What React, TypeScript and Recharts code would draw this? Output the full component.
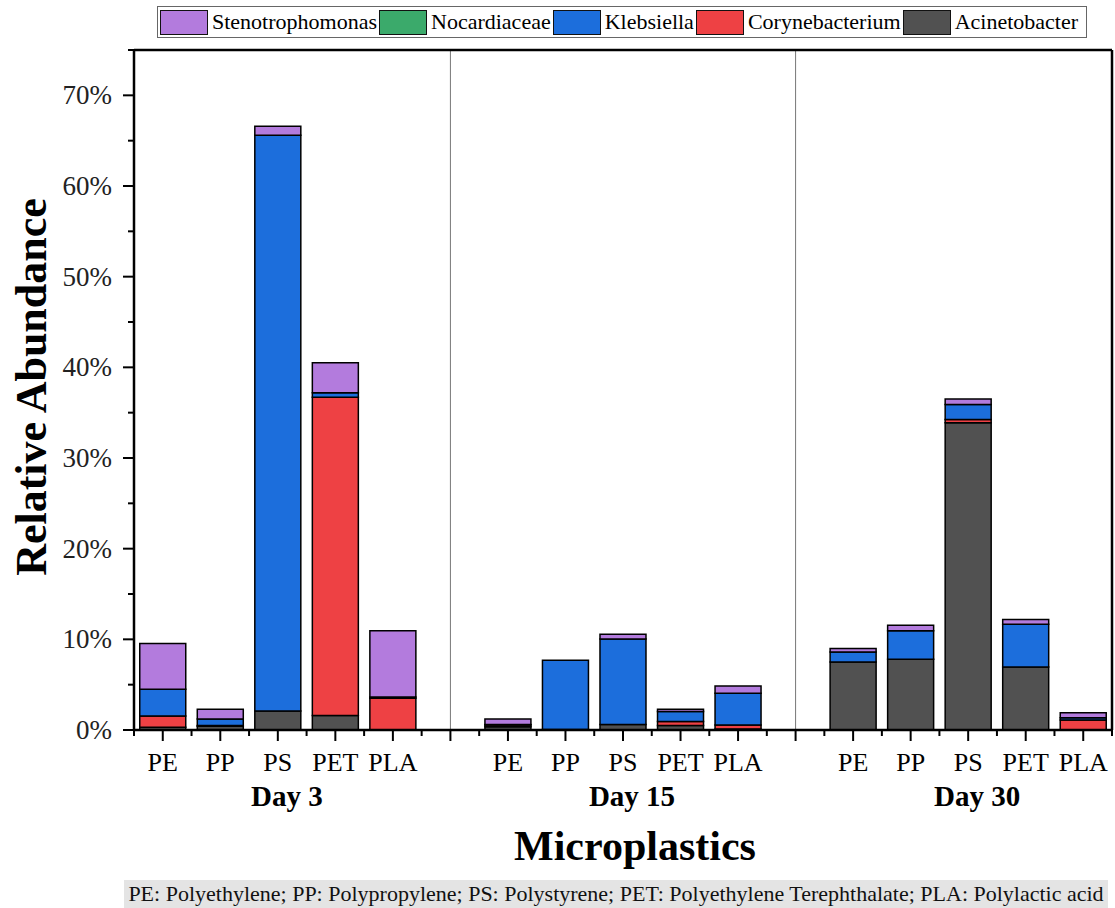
import { Bar, BarChart, Legend, ReferenceLine, XAxis, YAxis } from "recharts";

const FONT = '"Liberation Serif", "Times New Roman", serif';

const PLASTICS = ["PE", "PP", "PS", "PET", "PLA"];
const DAYS = ["Day 3", "Day 15", "Day 30"];

// relative abundance in %, per day: PE, PP, PS, PET, PLA
const ACINETOBACTER = [0.3, 0.4, 2.1, 1.6, 0, 0.35, 0.05, 0.6, 0.5, 0.1, 7.5, 7.8, 33.9, 6.95, 0];
const CORYNEBACTERIUM = [1.25, 0.1, 0, 35.1, 3.5, 0.2, 0, 0, 0.45, 0.45, 0, 0, 0.35, 0, 1.1];
const KLEBSIELLA = [2.95, 0.7, 63.5, 0.5, 0.15, 0.05, 7.65, 9.45, 1.1, 3.5, 1.1, 3.15, 1.65, 4.7, 0.25];
const NOCARDIACEAE = [0, 0, 0, 0, 0, 0, 0, 0, 0, 0, 0, 0, 0, 0, 0];
const STENOTROPHOMONAS = [5.05, 1.1, 1.0, 3.3, 7.3, 0.6, 0, 0.5, 0.25, 0.8, 0.4, 0.6, 0.6, 0.55, 0.55];

const Y_TICKS = [0, 5, 10, 15, 20, 25, 30, 35, 40, 45, 50, 55, 60, 65, 70, 75];

// stacking order, bottom first
const SERIES = [
  { key: "Acinetobacter", color: "#515151", values: ACINETOBACTER },
  { key: "Corynebacterium", color: "#EE4144", values: CORYNEBACTERIUM },
  { key: "Klebsiella", color: "#1C6EDC", values: KLEBSIELLA },
  { key: "Nocardiaceae", color: "#3BAA6B", values: NOCARDIACEAE },
  { key: "Stenotrophomonas", color: "#B37BDD", values: STENOTROPHOMONAS },
];

type Row = { slot: string; label: string; day: string; [key: string]: number | string };

// one empty slot between the days
const data: Row[] = [];
DAYS.forEach((day, d) => {
  if (d > 0) data.push({ slot: `gap${d}`, label: "", day: "" });
  PLASTICS.forEach((p, i) => {
    const row: Row = { slot: `${day} ${p}`, label: p, day: i === 2 ? day : "" };
    SERIES.forEach((s) => {
      row[s.key] = s.values[d * 5 + i];
    });
    data.push(row);
  });
});

const PLOT_LEFT = 134;
const PLOT_RIGHT = 1112;
const SLOT = (PLOT_RIGHT - PLOT_LEFT) / data.length;

function XTick(props: any) {
  const { x, y, payload } = props;
  const idx = data.findIndex((r) => r.slot === payload.value);
  const row = data[idx];
  const half = SLOT / 2;
  return (
    <g>
      <line x1={x} x2={x} y1={y} y2={y + 11} stroke="#000" strokeWidth={2} />
      <line x1={x - half} x2={x - half} y1={y} y2={y + 6} stroke="#000" strokeWidth={2} />
      {idx === data.length - 1 && (
        <line x1={x + half} x2={x + half} y1={y} y2={y + 6} stroke="#000" strokeWidth={2} />
      )}
      <text x={x} y={y + 41} textAnchor="middle" fontSize={26} fontFamily={FONT} fill="#000">
        {row?.label}
      </text>
      {row?.day && (
        <text x={x + 9} y={y + 76} textAnchor="middle" fontSize={29} fontWeight="bold" fontFamily={FONT} fill="#000">
          {row.day}
        </text>
      )}
    </g>
  );
}

function YTick(props: any) {
  const { x, y, payload } = props;
  const major = payload.value % 10 === 0;
  return (
    <g>
      <line x1={x - (major ? 11 : 6)} x2={x} y1={y} y2={y} stroke="#000" strokeWidth={2} />
      {major && (
        <text x={x - 22} y={y + 9} textAnchor="end" fontSize={27} fontFamily={FONT} fill="#222">
          {`${payload.value}%`}
        </text>
      )}
    </g>
  );
}

function LegendBox() {
  const items = [...SERIES].reverse();
  return (
    <div
      style={{
        display: "flex",
        alignItems: "center",
        height: 32,
        boxSizing: "border-box",
        border: "1px solid #666",
        paddingLeft: 2,
        fontFamily: FONT,
        fontSize: 22,
        color: "#000",
        whiteSpace: "nowrap",
      }}
    >
      {items.map((s) => (
        <div key={s.key} style={{ display: "flex", alignItems: "center", marginRight: 2, fontFamily: FONT }}>
          <span
            style={{
              width: 48,
              height: 25,
              boxSizing: "border-box",
              background: s.color,
              border: "1.5px solid #111",
              marginRight: 4,
            }}
          />
          <span style={{ fontFamily: FONT }}>{s.key}</span>
        </div>
      ))}
    </div>
  );
}

export default function App() {
  return (
    <div style={{ position: "absolute", left: 0, top: 0, width: 1115, height: 908, background: "#fff", fontFamily: FONT }}>
      <BarChart
        width={1115}
        height={908}
        data={data}
        barCategoryGap="10%"
        margin={{ top: 50, right: 1115 - PLOT_RIGHT, bottom: 118, left: PLOT_LEFT - 80 }}
      >
        <XAxis
          dataKey="slot"
          height={60}
          interval={0}
          tickSize={0}
          tickMargin={0}
          tickLine={false}
          tick={<XTick />}
          axisLine={{ stroke: "#000", strokeWidth: 2.5 }}
        />
        <YAxis
          width={80}
          domain={[0, 75]}
          ticks={Y_TICKS}
          interval={0}
          tickSize={0}
          tickMargin={0}
          tickLine={false}
          tick={<YTick />}
          axisLine={{ stroke: "#000", strokeWidth: 2.5 }}
        />
        <ReferenceLine x="gap1" stroke="#777" strokeWidth={1} />
        <ReferenceLine x="gap2" stroke="#777" strokeWidth={1} />
        <ReferenceLine y={75} stroke="#000" strokeWidth={2.5} />
        <ReferenceLine x={data[data.length - 1].slot} position="end" stroke="#000" strokeWidth={2.5} />
        {SERIES.map((s) => (
          <Bar
            key={s.key}
            dataKey={s.key}
            stackId="a"
            fill={s.color}
            stroke="#000"
            strokeWidth={1.5}
            isAnimationActive={false}
          />
        ))}
        <Legend
          layout="horizontal"
          verticalAlign="middle"
          align="center"
          content={<LegendBox />}
          wrapperStyle={{ position: "absolute", left: 157, top: 6, width: 930, height: 32 }}
        />
      </BarChart>
      <div
        style={{
          position: "absolute",
          left: 32 - 250,
          top: 387 - 25,
          width: 500,
          height: 50,
          lineHeight: "50px",
          textAlign: "center",
          fontSize: 44,
          fontWeight: "bold",
          transform: "rotate(-90deg)",
          color: "#000",
        }}
      >
        Relative Abundance
      </div>
      <div
        style={{
          position: "absolute",
          left: 635 - 300,
          top: 825,
          width: 600,
          lineHeight: 1,
          textAlign: "center",
          fontSize: 42,
          fontWeight: "bold",
          color: "#000",
        }}
      >
        Microplastics
      </div>
      <div
        style={{
          position: "absolute",
          left: 124,
          top: 880,
          width: 984,
          height: 28,
          lineHeight: "28px",
          background: "#e4e4e4",
          textAlign: "center",
          fontSize: 22,
          fontFamily: FONT,
          color: "#111",
          whiteSpace: "nowrap",
        }}
      >
        PE: Polyethylene; PP: Polypropylene; PS: Polystyrene; PET: Polyethylene Terephthalate; PLA: Polylactic acid
      </div>
    </div>
  );
}
